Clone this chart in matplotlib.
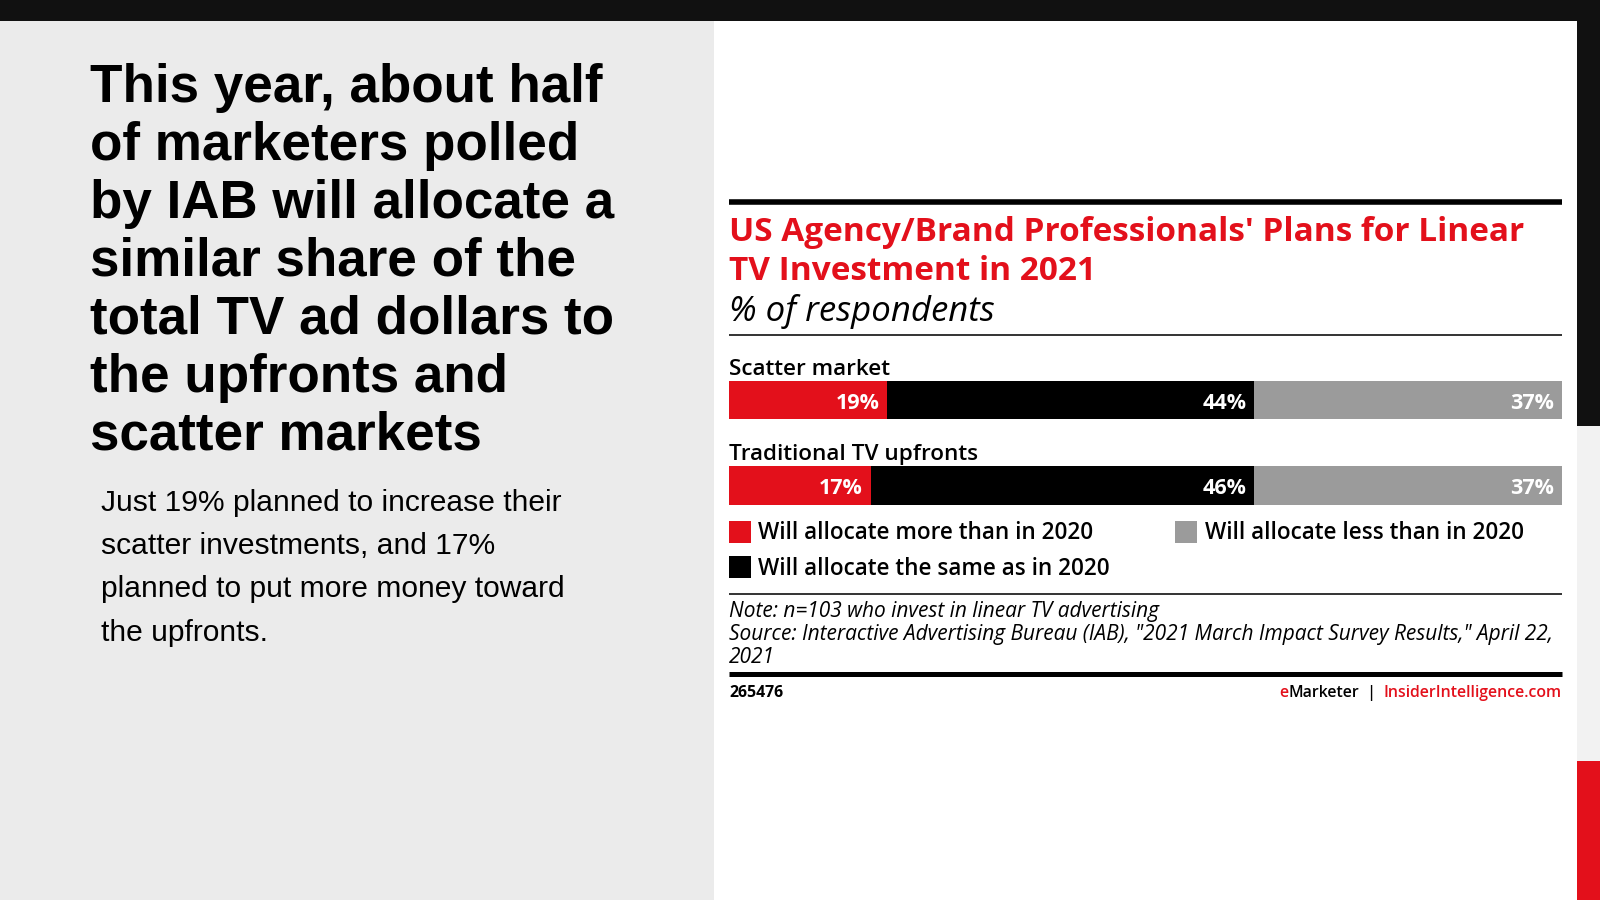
import matplotlib.pyplot as plt
from matplotlib.patches import Rectangle

# data
categories = ['Scatter market', 'Traditional TV upfronts']
more = [19, 17]
same = [44, 46]
less = [37, 37]
series_names = ['Will allocate more than in 2020',
                'Will allocate the same as in 2020',
                'Will allocate less than in 2020']

headline = ['This year, about half', 'of marketers polled', 'by IAB will allocate a',
            'similar share of the', 'total TV ad dollars to', 'the upfronts and',
            'scatter markets']
body = ['Just 19% planned to increase their', 'scatter investments, and 17%',
        'planned to put more money toward', 'the upfronts.']
title_lines = ["US Agency/Brand Professionals' Plans for Linear", 'TV Investment in 2021']
subtitle = '% of respondents'
note_lines = ['Note: n=103 who invest in linear TV advertising',
              'Source: Interactive Advertising Bureau (IAB), "2021 March Impact Survey Results," April 22,',
              '2021']
chart_id = '265476'

RED = '#e3101b'
GRAY = '#9b9b9b'
DARK = '#111111'
EM = ['Open Sans', 'DejaVu Sans']
HL = ['Liberation Sans', 'DejaVu Sans']

W, H = 1600, 900
fig = plt.figure(figsize=(16, 9), dpi=100)
renderer = fig.canvas.get_renderer()

bg = fig.add_axes([0, 0, 1, 1])
bg.set_xlim(0, W)
bg.set_ylim(H, 0)
bg.axis('off')


def rect(x0, y0, x1, y1, c):
    bg.add_patch(Rectangle((x0, y0), x1 - x0, y1 - y0, color=c, lw=0))


def fit(txt, target, **kw):
    # font size that gives the text the width (px) it has in the reference
    t = bg.text(0, 0, txt, fontsize=20, **kw)
    w = t.get_window_extent(renderer=renderer).width
    t.remove()
    return 20 * target / w


rect(0, 0, W, H, 'white')
rect(0, 0, W, 21, DARK)
rect(0, 21, 714, H, '#ebebeb')
rect(1577, 0, W, 426, DARK)
rect(1577, 426, W, 761, '#f2f2f2')
rect(1577, 761, W, H, RED)

# left side text
fs = fit(headline[0], 512, family=HL, weight='bold')
for i, line in enumerate(headline):
    bg.text(90, 101.7 + i * 58, line, fontsize=fs, weight='bold',
            family=HL, va='baseline', color='black')
fs = fit(body[0], 458.7, family=HL)
for i, line in enumerate(body):
    bg.text(101, 510.7 + i * 43.3, line, fontsize=fs,
            family=HL, va='baseline', color='black')

# chart header
L, R = 729, 1562
bg.plot([L, R], [202, 202], color='black', lw=4, solid_capstyle='butt')
fs = fit(title_lines[0], 795, family=EM, weight='bold')
for i, line in enumerate(title_lines):
    bg.text(L, 241 + i * 38.5, line, fontsize=fs, weight='bold', family=EM,
            color=RED, va='baseline')
fs = fit(subtitle, 266, family=EM, style='italic')
bg.text(L, 321, subtitle, fontsize=fs, style='italic',
        family=EM, va='baseline', color='black')
bg.plot([L, R], [335, 335], color='#333333', lw=1.4, solid_capstyle='butt')

# bars
h = 38.5 / 85.3
ax = fig.add_axes([L / W, 1 - 504.5 / H, (R - L) / W, (504.5 - 380.75) / H])
ys = list(range(len(categories)))
left2 = [a + b for a, b in zip(more, same)]
b1 = ax.barh(ys, more, height=h, color=RED, label=series_names[0])
b2 = ax.barh(ys, same, left=more, height=h, color='black', label=series_names[1])
b3 = ax.barh(ys, less, left=left2, height=h, color=GRAY, label=series_names[2])
ax.set_xlim(0, 100)
ax.set_ylim(len(categories) - 1 + h / 2, -h / 2)
ax.axis('off')

fs_val = fit('19%', 44, family=EM, weight='bold')
fs_cat = fit(categories[1], 248, family=EM, weight='semibold')
for i in ys:
    ends = [more[i], more[i] + same[i], 100]
    vals = [more[i], same[i], less[i]]
    for e, v in zip(ends, vals):
        ax.annotate(f'{v}%', xy=(e, i), xytext=(-5.5, -6.3), textcoords='offset points',
                    ha='right', va='baseline', color='white', fontsize=fs_val,
                    weight='bold', family=EM)
    ax.annotate(categories[i], xy=(0, i - h / 2), xytext=(0, 4.2),
                textcoords='offset points', ha='left', va='baseline',
                fontsize=fs_cat, weight='semibold', family=EM, annotation_clip=False)

fs_leg = fit(series_names[1], 351.6, family=EM, weight='semibold')
px = fs_leg * 100 / 72
leg = ax.legend([b1, b2, b3], series_names, ncol=2, loc='upper left',
                bbox_to_anchor=(L / W, 1 - 521 / H), bbox_transform=fig.transFigure,
                frameon=False, borderpad=0, borderaxespad=0,
                handlelength=21.5 / px, handleheight=21.5 / px / 0.87,
                handletextpad=8 / px, columnspacing=65 / px, labelspacing=0.47,
                prop={'family': EM, 'size': fs_leg, 'weight': 'semibold'})

# footer
bg.plot([L, R], [593.7, 593.7], color='#333333', lw=1.4, solid_capstyle='butt')
fs = fit(note_lines[1], 826, family=EM, style='italic')
for i, line in enumerate(note_lines):
    bg.text(L, 617 + i * 23, line, fontsize=fs, style='italic', family=EM,
            va='baseline', color='black')
bg.plot([L, R], [674, 674], color='black', lw=3.6, solid_capstyle='butt')
fs = fit('InsiderIntelligence.com', 177.7, family=EM, weight='semibold')
bg.text(L, 697, chart_id, fontsize=fs, weight='bold', family=EM, va='baseline')

x = R
for txt, col in [('InsiderIntelligence.com', RED), ('  |  ', 'black'),
                 ('Marketer', 'black'), ('e', RED)]:
    t = bg.text(x, 697, txt, fontsize=fs, weight='semibold', family=EM, color=col,
                va='baseline', ha='right')
    bb = t.get_window_extent(renderer=renderer)
    x -= bb.width

fig.savefig('out.png', dpi=100)
